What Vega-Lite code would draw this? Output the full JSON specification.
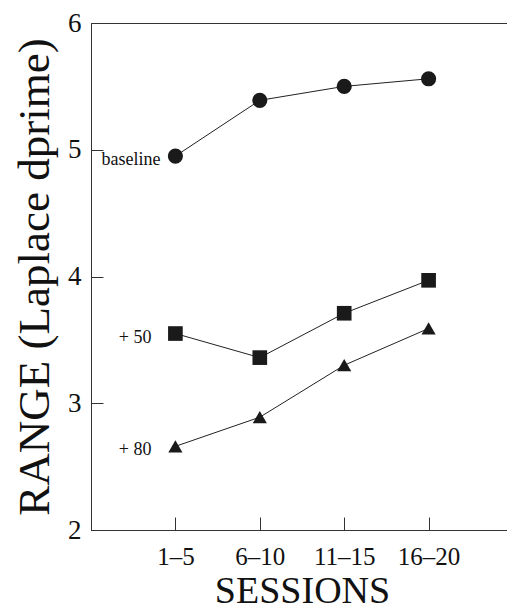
{
  "$schema": "https://vega.github.io/schema/vega-lite/v6.json",
  "width": 422,
  "height": 507,
  "autosize": {"type": "none"},
  "padding": {"left": 91, "top": 23, "right": 0, "bottom": 81},
  "background": "white",
  "config": {
    "view": {"stroke": "#333", "strokeWidth": 1},
    "font": "Liberation Serif"
  },
  "data": {
    "values": [
      {"session": "1–5", "group": "baseline", "value": 4.95, "label": "baseline"},
      {"session": "6–10", "group": "baseline", "value": 5.39, "label": ""},
      {"session": "11–15", "group": "baseline", "value": 5.50, "label": ""},
      {"session": "16–20", "group": "baseline", "value": 5.56, "label": ""},
      {"session": "1–5", "group": "+50", "value": 3.55, "label": "+ 50"},
      {"session": "6–10", "group": "+50", "value": 3.36, "label": ""},
      {"session": "11–15", "group": "+50", "value": 3.71, "label": ""},
      {"session": "16–20", "group": "+50", "value": 3.97, "label": ""},
      {"session": "1–5", "group": "+80", "value": 2.66, "label": "+ 80"},
      {"session": "6–10", "group": "+80", "value": 2.89, "label": ""},
      {"session": "11–15", "group": "+80", "value": 3.30, "label": ""},
      {"session": "16–20", "group": "+80", "value": 3.59, "label": ""}
    ]
  },
  "encoding": {
    "x": {
      "field": "session",
      "type": "ordinal",
      "sort": ["1–5", "6–10", "11–15", "16–20"],
      "scale": {"type": "point", "padding": 1},
      "axis": {
        "title": "SESSIONS",
        "titleFont": "Liberation Serif",
        "titleFontSize": 38,
        "titleFontWeight": "normal",
        "titleColor": "#111",
        "titlePadding": 3,
        "labelFont": "Liberation Serif",
        "labelFontSize": 25,
        "labelColor": "#111",
        "labelAngle": 0,
        "labelPadding": 27,
        "tickSize": -13,
        "tickColor": "#333",
        "domainColor": "#333",
        "grid": false
      }
    },
    "y": {
      "field": "value",
      "type": "quantitative",
      "scale": {"domain": [2, 6], "nice": false, "zero": false},
      "axis": {
        "title": "RANGE (Laplace dprime)",
        "titleFont": "Liberation Serif",
        "titleFontSize": 45,
        "titleFontWeight": "normal",
        "titleColor": "#111",
        "titlePadding": 10,
        "values": [2, 3, 4, 5, 6],
        "labelFont": "Liberation Serif",
        "labelFontSize": 27,
        "labelColor": "#111",
        "labelPadding": 22,
        "tickSize": -12,
        "tickColor": "#333",
        "domainColor": "#333",
        "grid": false
      }
    }
  },
  "layer": [
    {
      "mark": {"type": "line", "color": "#222", "strokeWidth": 1},
      "encoding": {"detail": {"field": "group"}}
    },
    {
      "mark": {"type": "point", "filled": true, "color": "#1a1a1a", "opacity": 1},
      "encoding": {
        "shape": {
          "field": "group",
          "scale": {"domain": ["baseline", "+50", "+80"], "range": ["circle", "square", "triangle-up"]},
          "legend": null
        },
        "size": {
          "field": "group",
          "scale": {"domain": ["baseline", "+50", "+80"], "range": [230, 200, 210]},
          "legend": null
        }
      }
    },
    {
      "transform": [{"filter": "datum.group === 'baseline' && datum.label !== ''"}],
      "mark": {"type": "text", "align": "right", "baseline": "middle", "dx": -15, "dy": 4, "fontSize": 18, "font": "Liberation Serif", "color": "#111"},
      "encoding": {"text": {"field": "label"}}
    },
    {
      "transform": [{"filter": "datum.group !== 'baseline' && datum.label !== ''"}],
      "mark": {"type": "text", "align": "right", "baseline": "middle", "dx": -24, "dy": 4, "fontSize": 18, "font": "Liberation Serif", "color": "#111"},
      "encoding": {"text": {"field": "label"}}
    }
  ]
}
